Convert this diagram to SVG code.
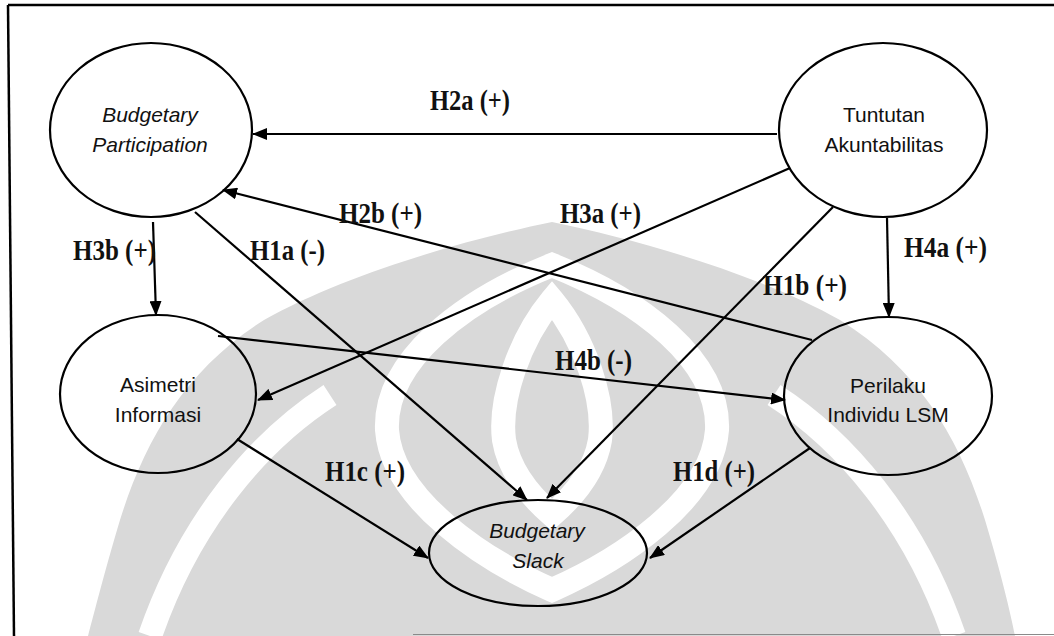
<svg xmlns="http://www.w3.org/2000/svg" width="1054" height="636" viewBox="0 0 1054 636">
  <style>
    .node ellipse { fill: none; stroke: #000; stroke-width: 2.2; }
    .node text { font-family: "Liberation Sans", Arial, sans-serif; font-size: 21px; fill: #111; text-anchor: middle; }
    .node text.it { font-style: italic; }
    .edge { stroke: #000; stroke-width: 2.2; fill: none; marker-end: url(#arrow); }
    .lbl { font-family: "Liberation Serif", "Times New Roman", serif; font-size: 29px; font-weight: bold; fill: #111; }
    .frame { stroke: #000; stroke-width: 2.5; fill: none; }
    .wm { fill: #d9d9d9; }
    .wm-cut { fill: none; stroke: #fff; stroke-width: 24; }
  </style>
  <defs>
    <marker id="arrow" markerUnits="userSpaceOnUse" markerWidth="15" markerHeight="12" refX="14" refY="6" orient="auto">
      <path d="M0,0 L15,6 L0,12 z" fill="#000"/>
    </marker>
  </defs>

  <rect width="1054" height="636" fill="#fff"/>

  <!-- faint emblem behind the model -->
  <g id="watermark">
    <path class="wm" d="M552,222 C640,240 760,275 840,320 C920,370 960,440 985,520 C1000,570 1010,610 1015,636 L88,636 C95,610 105,570 120,520 C145,440 185,370 264,320 C344,275 464,240 552,222 Z"/>
    <path class="wm-cut" d="M552,265 C640,300 720,360 717,430 C712,500 620,560 552,590 C484,560 392,500 387,430 C384,360 464,300 552,265 Z"/>
    <path class="wm-cut" d="M552,300 C585,340 605,400 600,440 C595,470 575,495 552,515 C529,495 509,470 504,440 C499,400 519,340 552,300 Z" stroke-width="16"/>
    <path class="wm-cut" d="M150,636 C190,520 260,440 330,395"/>
    <path class="wm-cut" d="M954,636 C914,520 844,440 774,395"/>
  </g>

  <!-- frame -->
  <g id="frame">
    <line class="frame" x1="8" y1="5" x2="1054" y2="5"/>
    <line class="frame" x1="8" y1="5" x2="14" y2="636"/>
    <line x1="413" y1="634.5" x2="1054" y2="634.5" stroke="#8a8a8a" stroke-width="1"/>
  </g>

  <!-- connectors -->
  <g id="connectors">
    <line class="edge" x1="777" y1="134" x2="253" y2="134"/>
    <line class="edge" x1="812" y1="340" x2="223" y2="190"/>
    <line class="edge" x1="790" y1="168" x2="258" y2="400"/>
    <line class="edge" x1="833" y1="207" x2="547" y2="498"/>
    <line class="edge" x1="887" y1="218" x2="889" y2="317"/>
    <line class="edge" x1="153" y1="222" x2="156" y2="315"/>
    <line class="edge" x1="195" y1="212" x2="527" y2="500"/>
    <line class="edge" x1="218" y1="336" x2="785" y2="400"/>
    <line class="edge" x1="237" y1="439" x2="428" y2="558"/>
    <line class="edge" x1="810" y1="448" x2="650" y2="558"/>
  </g>

  <!-- connector labels -->
  <g id="labels">
    <text class="lbl" x="430" y="110" textLength="80" lengthAdjust="spacingAndGlyphs">H2a (+)</text>
    <text class="lbl" x="339" y="223" textLength="83" lengthAdjust="spacingAndGlyphs">H2b (+)</text>
    <text class="lbl" x="560" y="223" textLength="81" lengthAdjust="spacingAndGlyphs">H3a (+)</text>
    <text class="lbl" x="73" y="260" textLength="83" lengthAdjust="spacingAndGlyphs">H3b (+)</text>
    <text class="lbl" x="250" y="260" textLength="75" lengthAdjust="spacingAndGlyphs">H1a (-)</text>
    <text class="lbl" x="904" y="257" textLength="83" lengthAdjust="spacingAndGlyphs">H4a (+)</text>
    <text class="lbl" x="763" y="295" textLength="84" lengthAdjust="spacingAndGlyphs">H1b (+)</text>
    <text class="lbl" x="555" y="370" textLength="77" lengthAdjust="spacingAndGlyphs">H4b (-)</text>
    <text class="lbl" x="325" y="481" textLength="80" lengthAdjust="spacingAndGlyphs">H1c (+)</text>
    <text class="lbl" x="673" y="481" textLength="82" lengthAdjust="spacingAndGlyphs">H1d (+)</text>
  </g>

  <!-- nodes -->
  <g id="budgetary-participation" class="node">
    <ellipse cx="151" cy="130" rx="101" ry="87"/>
    <text class="it" x="150" y="122">Budgetary</text>
    <text class="it" x="150" y="152">Participation</text>
  </g>
  <g id="tuntutan-akuntabilitas" class="node">
    <ellipse cx="883" cy="130" rx="104" ry="87"/>
    <text x="884" y="122">Tuntutan</text>
    <text x="884" y="152">Akuntabilitas</text>
  </g>
  <g id="asimetri-informasi" class="node">
    <ellipse cx="158" cy="394" rx="98" ry="79"/>
    <text x="158" y="392">Asimetri</text>
    <text x="158" y="422">Informasi</text>
  </g>
  <g id="perilaku-individu" class="node">
    <ellipse cx="888" cy="396" rx="104" ry="79"/>
    <text x="888" y="393">Perilaku</text>
    <text x="888" y="422">Individu LSM</text>
  </g>
  <g id="budgetary-slack" class="node">
    <ellipse cx="538" cy="553" rx="109" ry="53"/>
    <text class="it" x="537" y="538">Budgetary</text>
    <text class="it" x="538" y="568">Slack</text>
  </g>
</svg>
